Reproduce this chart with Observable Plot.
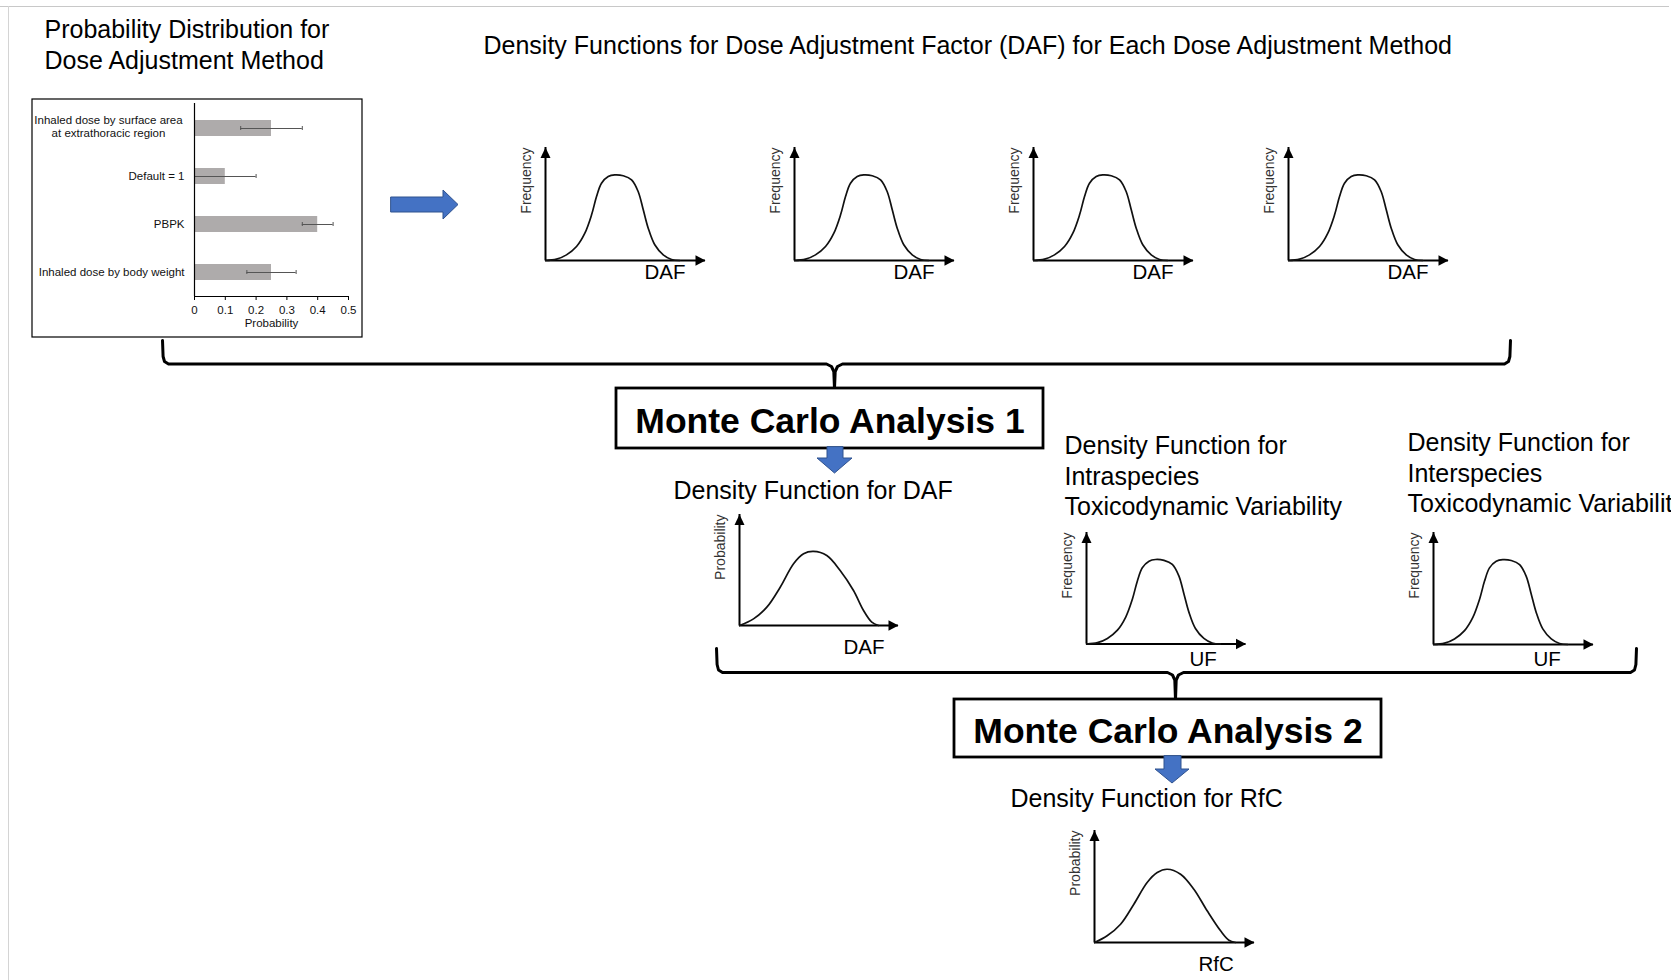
<!DOCTYPE html>
<html><head><meta charset="utf-8">
<script src="https://cdn.jsdelivr.net/npm/d3@7"></script>
<script src="https://cdn.jsdelivr.net/npm/@observablehq/plot@0.6"></script>
<style>
html,body{margin:0;padding:0;background:#fff;overflow:hidden;}
#page{position:relative;width:1680px;height:980px;overflow:hidden;background:#fff;}
.abs{position:absolute;}
.abs svg{display:block;}
</style></head><body><div id="page"></div>
<script>
const FONT = "'Liberation Sans', Arial, Helvetica, sans-serif";

// ---------------- DATA ----------------
const methods = [
  "Inhaled dose by surface area\nat extrathoracic region",
  "Default = 1",
  "PBPK",
  "Inhaled dose by body weight"
];
const probability = [0.25, 0.10, 0.40, 0.25];
const probLow = [0.15, 0.00, 0.35, 0.17];
const probHigh = [0.35, 0.20, 0.45, 0.33];
const probTicks = [0, 0.1, 0.2, 0.3, 0.4, 0.5];

// bell-shaped density (per dose adjustment method and UF)
const bellX = [0, 0.69, 1.31, 1.94, 2.46, 2.88, 3.19, 3.5, 3.92, 4.33, 4.86, 5.38, 5.79, 6.11, 6.42, 6.83, 7.36, 7.88, 8.39];
const bellFreq = [0, 0.012, 0.05, 0.124, 0.242, 0.404, 0.566, 0.684, 0.743, 0.758, 0.75, 0.714, 0.611, 0.449, 0.286, 0.139, 0.05, 0.009, 0];
// Monte Carlo 1 output: density for DAF
const mcDafX = [0, 0.88, 1.72, 2.56, 3.4, 4.03, 4.65, 5.49, 6.33, 7.17, 7.8, 8.32, 8.74];
const mcDafProb = [0, 0.06, 0.165, 0.345, 0.556, 0.646, 0.667, 0.63, 0.495, 0.315, 0.135, 0.03, 0];
// Monte Carlo 2 output: density for RfC
const rfcX = [0, 0.79, 1.63, 2.46, 3.29, 3.92, 4.54, 5.38, 6.21, 7.04, 7.88, 8.4, 8.81];
const rfcProb = [0, 0.06, 0.163, 0.342, 0.536, 0.625, 0.654, 0.61, 0.476, 0.283, 0.104, 0.02, 0];

const titleLeft = ["Probability Distribution for", "Dose Adjustment Method"];
const titleTop = "Density Functions for Dose Adjustment Factor (DAF) for Each Dose Adjustment Method";
const mc1Label = "Monte Carlo Analysis 1";
const mc2Label = "Monte Carlo Analysis 2";
const dafTitle = "Density Function for DAF";
const intraTitle = ["Density Function for", "Intraspecies", "Toxicodynamic Variability"];
const interTitle = ["Density Function for", "Interspecies", "Toxicodynamic Variability"];
const rfcTitle = "Density Function for RfC";

// ---------------- LAYOUT ----------------
const page = document.getElementById("page");
function place(node, left, top) {
  const d = document.createElement("div");
  d.className = "abs";
  d.style.left = left + "px";
  d.style.top = top + "px";
  d.appendChild(node);
  page.appendChild(d);
  return d;
}
const subStyle = {background: "transparent", fontFamily: FONT, maxWidth: "none", overflow: "visible"};

// overlay (diagram scaffolding)
const plainTexts = [
  {x: 44, y: 37, t: titleLeft[0]},
  {x: 44, y: 68, t: titleLeft[1]},
  {x: 483, y: 53, t: titleTop},
  {x: 673, y: 498, t: dafTitle},
  {x: 1064, y: 453, t: intraTitle[0]},
  {x: 1064, y: 484, t: intraTitle[1]},
  {x: 1064, y: 514, t: intraTitle[2]},
  {x: 1407, y: 450, t: interTitle[0]},
  {x: 1407, y: 481, t: interTitle[1]},
  {x: 1407, y: 511, t: interTitle[2]},
  {x: 1010, y: 806, t: rfcTitle}
];
const boxTexts = [
  {x: 829.5, y: 432, t: mc1Label},
  {x: 1167.5, y: 742, t: mc2Label}
];
const brackets = [
  {id: "b1L", pts: [[162,340],[162.6,356],[164,361],[168,363.5],[826,363.5],[831,366],[833.3,371],[834,388]]},
  {id: "b1R", pts: [[1510,340],[1509.4,356],[1508,361],[1504,363.5],[842,363.5],[837,366],[834.7,371],[834,388]]},
  {id: "b2L", pts: [[716,648],[716.6,664],[718,669.5],[722,672],[1167,672],[1172,674.5],[1174.3,679.5],[1175,699]]},
  {id: "b2R", pts: [[1636,648],[1635.4,664],[1634,669.5],[1630,672],[1183,672],[1178,674.5],[1175.7,679.5],[1175,699]]}
].flatMap(b => b.pts.map(([x, y]) => ({id: b.id, x, y})));
const boxes = [{x1: 616, x2: 1043, y1: 388, y2: 448}, {x1: 954, x2: 1381, y1: 699, y2: 757}];
const rightArrow = [{x:391,y1:197,y2:212},{x:443,y1:197,y2:212},{x:443,y1:190,y2:219},{x:458,y1:204.5,y2:204.5}];
const down1 = [{y:447,x1:827,x2:843},{y:458,x1:827,x2:843},{y:458,x1:817,x2:852},{y:473,x1:834.5,x2:834.5}];
const down2 = [{y:756,x1:1164,x2:1181},{y:769,x1:1164,x2:1181},{y:769,x1:1155,x2:1189},{y:783,x1:1172,x2:1172}];
const arrowStyle = {fill: "#4472c4", stroke: "#2f528f", strokeWidth: 1};

const overlay = Plot.plot({
  width: 1680, height: 980, margin: 0,
  x: {domain: [0, 1680], range: [0, 1680], axis: null},
  y: {domain: [0, 980], range: [0, 980], axis: null},
  style: {background: "#fff", fontFamily: FONT, maxWidth: "none", overflow: "hidden", clipPath: "inset(0 9px 0 0)"},
  marks: [
    Plot.ruleY([6], {x1: 0, x2: 1669, stroke: "#c8c8c8", strokeWidth: 1.2}),
    Plot.ruleX([8], {y1: 6, y2: 980, stroke: "#d4d4d4", strokeWidth: 1}),
    Plot.rect([{x1: 32, x2: 362, y1: 99, y2: 337}], {x1: "x1", x2: "x2", y1: "y1", y2: "y2", fill: "none", stroke: "#000", strokeWidth: 1.2}),
    Plot.areaY(rightArrow, {x: "x", y1: "y1", y2: "y2", ...arrowStyle}),
    Plot.line(brackets, {x: "x", y: "y", z: "id", stroke: "#000", strokeWidth: 3, strokeLinejoin: "round"}),
    Plot.rect(boxes, {x1: "x1", x2: "x2", y1: "y1", y2: "y2", fill: "#fff", stroke: "#000", strokeWidth: 2.8}),
    Plot.areaX(down1, {y: "y", x1: "x1", x2: "x2", ...arrowStyle}),
    Plot.areaX(down2, {y: "y", x1: "x1", x2: "x2", ...arrowStyle}),
    Plot.text(plainTexts, {x: "x", y: "y", text: "t", textAnchor: "start", fontSize: 25, lineAnchor: "bottom", fill: "#000"}),
    Plot.text(boxTexts, {x: "x", y: "y", text: "t", textAnchor: "middle", fontSize: 35.5, fontWeight: "bold", lineAnchor: "bottom", fill: "#000"})
  ]
});
overlay.style.position = "absolute";
overlay.style.left = "0px";
overlay.style.top = "0px";
page.appendChild(overlay);

// ---------------- BAR CHART ----------------
const barData = methods.map((m, i) => ({method: m, p: probability[i], lo: probLow[i], hi: probHigh[i]}));
const bar = Plot.plot({
  width: 330, height: 238, marginLeft: 162, marginRight: 14, marginTop: 4, marginBottom: 41,
  style: {...subStyle, fontSize: "11.5px", color: "#111"},
  x: {domain: [0, 0.5]},
  y: {domain: methods, padding: 0},
  marks: [
    Plot.barX(barData, {y: "method", x: "p", fill: "#aeabab", insetTop: 16, insetBottom: 16}),
    Plot.ruleY(barData, {y: "method", x1: "lo", x2: "hi", stroke: "#555", strokeWidth: 1}),
    Plot.tickX(barData, {y: "method", x: "lo", stroke: "#555", insetTop: 22, insetBottom: 22}),
    Plot.tickX(barData, {y: "method", x: "hi", stroke: "#555", insetTop: 22, insetBottom: 22}),
    Plot.ruleX([0], {stroke: "#000", strokeWidth: 1.2}),
    Plot.ruleY([methods[methods.length - 1]], {y: d => d, x1: 0, x2: 0.5, dy: 24, stroke: "#000", strokeWidth: 1.2}),
    Plot.axisX({ticks: probTicks, tickFormat: d => String(d), tickSize: 4, tickPadding: 5, label: null, stroke: "#000", fontSize: 11.5}),
    Plot.axisY({tickSize: 0, tickPadding: 10, label: null, fontSize: 11.5, tickFormat: d => d.includes("\n") ? "" : d}),
    Plot.text([methods[0]], {text: d => d, y: d => d, frameAnchor: "left", dx: -86, dy: -2, textAnchor: "middle", lineHeight: 1.15, fontSize: 11.5, fill: "#111"}),
    Plot.text(["Probability"], {text: d => d, frameAnchor: "bottom", dy: 30, fontSize: 11.5, fill: "#111"})
  ]
});
place(bar, 32, 99);

// ---------------- DENSITY SKETCHES ----------------
const headRight = {draw(ctx) { ctx.moveTo(-10, -5.2); ctx.lineTo(0, 0); ctx.lineTo(-10, 5.2); ctx.closePath(); }};
const headUp = {draw(ctx) { ctx.moveTo(-5, 10.5); ctx.lineTo(0, 0); ctx.lineTo(5, 10.5); ctx.closePath(); }};

function density(xs, ys, o) {
  const pts = xs.map((x, i) => ({x, y: ys[i]}));
  const node = Plot.plot({
    width: 40 + o.len + 12, height: 6 + o.h + 42,
    marginLeft: 40, marginRight: 12, marginTop: 6, marginBottom: 42,
    x: {domain: [0, 10], axis: null},
    y: {domain: [0, 1], axis: null},
    style: subStyle,
    marks: [
      Plot.ruleY([0], {x1: 0, x2: 10, stroke: "#000", strokeWidth: 2}),
      Plot.ruleX([0], {y1: 0, y2: 1, stroke: "#000", strokeWidth: 2}),
      Plot.line(pts, {x: "x", y: "y", curve: "catmull-rom", stroke: "#111", strokeWidth: 1.7}),
      Plot.dot([[10, 0]], {x: d => d[0], y: d => d[1], symbol: headRight, r: 4, fill: "#000", stroke: "none"}),
      Plot.dot([[0, 1]], {x: d => d[0], y: d => d[1], symbol: headUp, r: 4, fill: "#000", stroke: "none"}),
      Plot.text([o.yLabel], {text: d => d, frameAnchor: "top-left", rotate: -90, textAnchor: "end", lineAnchor: "middle", dx: -19, fontSize: 14, fill: "#333"}),
      Plot.text([o.xLabel], {text: d => d, frameAnchor: "bottom-left", textAnchor: "start", lineAnchor: "bottom", dx: o.labDx, dy: o.labDy, fontSize: 20.5, fill: "#000"})
    ]
  });
  place(node, o.ax - 40, o.top - 6);
}

[545, 793.5, 1033, 1287.5].forEach(ax =>
  density(bellX, bellFreq, {ax, top: 147, len: 160, h: 113, yLabel: "Frequency", xLabel: "DAF", labDx: 99, labDy: 18}));
density(mcDafX, mcDafProb, {ax: 739, top: 514, len: 159, h: 111, yLabel: "Probability", xLabel: "DAF", labDx: 104, labDy: 28});
density(bellX, bellFreq, {ax: 1085.5, top: 532, len: 159.5, h: 111.5, yLabel: "Frequency", xLabel: "UF", labDx: 103, labDy: 22});
density(bellX, bellFreq, {ax: 1432.5, top: 532, len: 160, h: 112, yLabel: "Frequency", xLabel: "UF", labDx: 100, labDy: 21});
density(rfcX, rfcProb, {ax: 1094, top: 830, len: 160, h: 112, yLabel: "Probability", xLabel: "RfC", labDx: 104, labDy: 28});
</script></body></html>
